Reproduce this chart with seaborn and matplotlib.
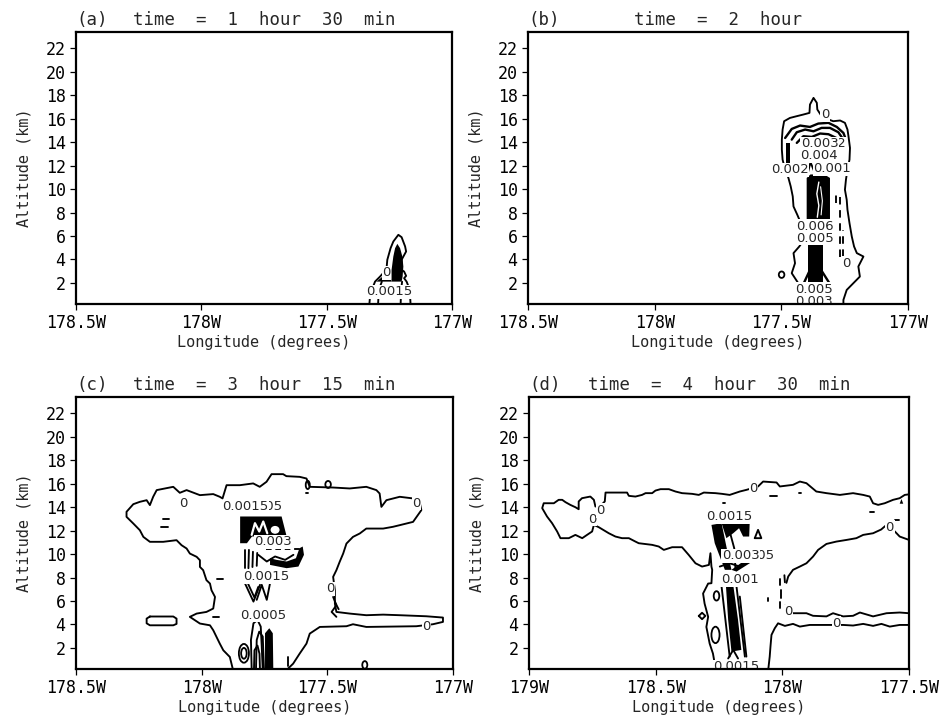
import matplotlib
matplotlib.use("Agg")
import matplotlib.pyplot as plt
from matplotlib.patches import Ellipse
import pandas as pd
import seaborn as sns

# ---------------------------------------------------------------- axes setup
PANEL_TAGS = ["(a)", "(b)", "(c)", "(d)"]
PANEL_TIMES = ["time  =  1  hour  30  min", "time  =  2  hour",
               "time  =  3  hour  15  min", "time  =  4  hour  30  min"]
XTICKS_ABC = [-178.5, -178.0, -177.5, -177.0]
XTICKLABELS_ABC = ["178.5W", "178W", "177.5W", "177W"]
XTICKS_D = [-179.0, -178.5, -178.0, -177.5]
XTICKLABELS_D = ["179W", "178.5W", "178W", "177.5W"]
YTICKS = [2, 4, 6, 8, 10, 12, 14, 16, 18, 20, 22]
ALT_RANGE = (0.2, 23.4)

# ------------------------------------------------ (a) 1 h 30 min contours
A_ZERO = [(-177.330, 0.1), (-177.327, 0.83), (-177.318, 1.5), (-177.307, 2.11),
          (-177.287, 2.54), (-177.272, 2.9), (-177.261, 3.25), (-177.258, 3.97),
          (-177.245, 4.96), (-177.234, 5.53), (-177.214, 6.10), (-177.201, 5.90),
          (-177.187, 5.11), (-177.183, 4.68), (-177.201, 3.97), (-177.201, 3.11),
          (-177.191, 2.97), (-177.183, 2.60), (-177.191, 2.40), (-177.181, 2.11),
          (-177.170, 1.5), (-177.167, 0.83), (-177.165, 0.1)]
A_INNER_1 = [(-177.295, 0.1), (-177.292, 1.4), (-177.280, 2.1)]
A_INNER_2 = [(-177.205, 0.1), (-177.203, 1.4), (-177.199, 2.1)]
A_CORE = [(-177.218, 5.33), (-177.207, 4.96), (-177.198, 4.25), (-177.194, 3.40),
          (-177.197, 2.54), (-177.201, 2.11), (-177.241, 2.11), (-177.241, 3.11),
          (-177.234, 4.25), (-177.227, 4.96)]
A_CORE_LOW = [(-177.301, 2.11), (-177.274, 2.60), (-177.247, 2.68), (-177.241, 2.11)]
A_LABELS = [("0", -177.262, 2.85), ("0.0015", -177.25, 1.26)]

# ------------------------------------------------ (b) 2 h contours
B_ZERO = [(-177.413, 0.1), (-177.413, 1.40), (-177.433, 1.97), (-177.459, 2.83),
          (-177.446, 3.68), (-177.452, 4.54), (-177.429, 5.11), (-177.416, 5.53),
          (-177.420, 6.25), (-177.423, 7.10), (-177.437, 7.81), (-177.452, 8.52),
          (-177.455, 9.38), (-177.463, 10.23), (-177.472, 10.95), (-177.485, 11.66),
          (-177.495, 12.51), (-177.498, 13.37), (-177.498, 14.22), (-177.495, 15.08),
          (-177.489, 15.79), (-177.466, 16.07), (-177.439, 16.22), (-177.413, 16.36),
          (-177.389, 16.50), (-177.387, 17.21), (-177.373, 17.78), (-177.360, 17.36),
          (-177.358, 16.79), (-177.341, 16.22), (-177.321, 15.99), (-177.295, 15.79),
          (-177.268, 15.85), (-177.249, 15.65), (-177.239, 15.08), (-177.235, 14.51),
          (-177.229, 13.51), (-177.231, 12.51), (-177.239, 11.66), (-177.245, 10.80),
          (-177.249, 9.95), (-177.242, 9.09), (-177.239, 8.24), (-177.231, 7.10),
          (-177.222, 5.96), (-177.213, 5.11), (-177.202, 4.54), (-177.176, 4.25),
          (-177.196, 3.40), (-177.190, 2.54), (-177.216, 1.97), (-177.242, 1.40),
          (-177.255, 0.55), (-177.255, 0.1)]
B_ARC_1 = [(-177.485, 14.36), (-177.459, 15.13), (-177.426, 15.42), (-177.387, 15.30),
           (-177.354, 15.59), (-177.314, 15.65), (-177.281, 15.30), (-177.255, 14.79),
           (-177.245, 14.22)]
B_ARC_2 = [(-177.459, 14.22), (-177.439, 14.85), (-177.406, 15.08), (-177.373, 14.93),
           (-177.341, 15.22), (-177.308, 15.22), (-177.275, 14.85), (-177.255, 14.22)]
B_ARC_3 = [(-177.439, 13.94), (-177.413, 14.51), (-177.380, 14.45), (-177.347, 14.74),
           (-177.314, 14.68), (-177.281, 14.34), (-177.262, 13.88)]
B_BAR_LEFT = [(-177.483, 12.1), (-177.466, 12.1), (-177.466, 13.9), (-177.483, 13.9)]
B_COL_UPPER = [(-177.400, 7.38), (-177.308, 7.38), (-177.308, 10.95), (-177.330, 11.25),
               (-177.385, 11.25), (-177.400, 10.95)]
B_STREAK_1 = [(-177.358, 7.6), (-177.352, 8.6), (-177.360, 9.6), (-177.352, 10.6)]
B_STREAK_2 = [(-177.343, 7.8), (-177.338, 9.0), (-177.345, 10.2)]
B_COL_LOWER = [(-177.393, 2.11), (-177.334, 2.11), (-177.334, 5.25), (-177.393, 5.25)]
B_FOOT_1 = [(-177.413, 1.9), (-177.385, 3.2), (-177.360, 1.9)]
B_FOOT_2 = [(-177.385, 1.9), (-177.340, 3.0), (-177.308, 1.9)]
B_W_LINES = [(-177.395, 11.4), (-177.385, 12.3), (-177.372, 11.6), (-177.360, 12.4)]
B_DASH_1 = [(-177.284, 8.8), (-177.284, 9.95)]
B_DASH_2 = [(-177.268, 4.25), (-177.268, 9.38)]
B_DASH_3 = [(-177.255, 3.1), (-177.255, 6.5)]
B_LOOPS = [(-177.499, 2.70, 0.022, 0.55)]
B_LABELS = [("0", -177.327, 16.36), ("0.002", -177.318, 13.85), ("0.003", -177.348, 13.85),
            ("0.004", -177.350, 12.85), ("0.001", -177.300, 11.75), ("0.002", -177.466, 11.66),
            ("0.005", -177.367, 5.80), ("0.006", -177.367, 6.85), ("0", -177.245, 3.68),
            ("0.003", -177.373, 0.42), ("0.005", -177.373, 1.45)]

# ------------------------------------------------ (c) 3 h 15 min contours
C_ZERO = [(-177.875, 0.1), (-177.888, 1.23), (-177.914, 1.80), (-177.928, 2.37),
          (-177.941, 2.94), (-177.954, 3.51), (-177.967, 3.93), (-178.007, 4.08),
          (-178.047, 4.65), (-178.020, 4.93), (-177.981, 5.07), (-177.954, 5.36),
          (-177.947, 6.35), (-177.961, 6.92), (-177.967, 7.49), (-177.981, 7.78),
          (-177.994, 8.63), (-178.007, 8.91), (-178.007, 9.48), (-178.020, 9.77),
          (-178.047, 10.05), (-178.060, 10.48), (-178.080, 10.76), (-178.100, 11.19),
          (-178.153, 11.05), (-178.206, 11.05), (-178.232, 11.47), (-178.246, 12.04),
          (-178.272, 12.61), (-178.299, 13.18), (-178.299, 13.61), (-178.272, 14.26),
          (-178.246, 14.46), (-178.219, 14.60), (-178.206, 14.18), (-178.193, 14.89),
          (-178.179, 15.46), (-178.113, 15.74), (-178.087, 15.23), (-178.060, 15.46),
          (-178.007, 15.03), (-177.954, 15.12), (-177.928, 14.89), (-177.917, 14.75),
          (-177.901, 15.88), (-177.848, 15.88), (-177.795, 16.03), (-177.769, 15.74),
          (-177.742, 16.17), (-177.722, 16.82), (-177.676, 16.82), (-177.663, 16.65),
          (-177.610, 16.59), (-177.583, 16.45), (-177.570, 15.74), (-177.477, 15.68),
          (-177.411, 15.60), (-177.345, 15.74), (-177.305, 15.46), (-177.292, 15.17),
          (-177.285, 14.03), (-177.265, 14.60), (-177.212, 14.89), (-177.159, 14.75),
          (-177.133, 14.46), (-177.126, 13.75), (-177.159, 12.75), (-177.212, 12.47),
          (-177.239, 12.33), (-177.278, 12.18), (-177.345, 12.18), (-177.371, 11.76),
          (-177.398, 11.47), (-177.424, 10.90), (-177.437, 10.05), (-177.451, 9.34),
          (-177.464, 8.63), (-177.477, 8.06), (-177.470, 6.92), (-177.470, 5.78),
          (-177.464, 5.07), (-177.411, 4.93), (-177.345, 4.79), (-177.278, 4.84),
          (-177.212, 4.79), (-177.106, 4.70), (-177.040, 4.59), (-177.040, 4.22),
          (-177.080, 4.02), (-177.146, 3.85), (-177.345, 3.79), (-177.398, 4.02),
          (-177.424, 3.85), (-177.530, 3.79), (-177.570, 3.22), (-177.583, 2.37),
          (-177.610, 1.52), (-177.636, 0.66), (-177.663, 0.1)]
C_BLOB = [(-178.206, 4.68), (-178.113, 4.68), (-178.100, 4.50), (-178.100, 4.05),
          (-178.113, 3.93), (-178.206, 3.93), (-178.219, 4.10), (-178.219, 4.50),
          (-178.206, 4.68)]
C_CORE_TOP = [(-177.847, 13.21), (-177.682, 13.21), (-177.655, 10.93), (-177.700, 10.93),
              (-177.720, 11.6), (-177.800, 11.5), (-177.820, 10.93), (-177.847, 10.93)]
C_CORE_TOP_W = [(-177.801, 11.64), (-177.788, 12.64), (-177.771, 11.93), (-177.755, 12.78),
                (-177.739, 11.78)]
C_CORE_MID = [(-177.728, 9.08), (-177.662, 8.80), (-177.615, 8.94), (-177.593, 9.94),
              (-177.598, 10.65), (-177.611, 10.50), (-177.625, 9.65), (-177.662, 9.37),
              (-177.702, 9.51), (-177.728, 9.65)]
C_MID_V1 = [(-177.828, 8.8), (-177.828, 10.36)]
C_MID_V2 = [(-177.814, 8.8), (-177.812, 10.36)]
C_MID_V3 = [(-177.798, 8.9), (-177.796, 10.2)]
C_MID_V4 = [(-177.781, 9.0), (-177.779, 10.1)]
C_MID_WAVE = [(-177.775, 9.94), (-177.741, 9.37), (-177.708, 9.80), (-177.668, 9.51),
              (-177.635, 9.94)]
C_DASHED = [(-177.745, 10.42), (-177.600, 10.42)]
C_V_1 = [(-177.828, 7.52), (-177.794, 5.95), (-177.768, 7.38)]
C_V_2 = [(-177.815, 7.45), (-177.790, 6.30), (-177.775, 7.20)]
C_N_1 = [(-177.781, 6.10), (-177.761, 7.38), (-177.741, 6.10), (-177.728, 7.52)]
C_STEM_1 = [(-177.801, 0.1), (-177.804, 2.68), (-177.794, 4.10), (-177.778, 4.39),
            (-177.765, 3.82), (-177.761, 2.11), (-177.757, 0.1)]
C_STEM_2 = [(-177.784, 0.1), (-177.781, 2.68), (-177.771, 3.39), (-177.757, 2.97),
            (-177.752, 0.1)]
C_STEM_3 = [(-177.792, 0.1), (-177.790, 1.8), (-177.778, 2.2), (-177.770, 1.5),
            (-177.768, 0.1)]
C_STEM_FILL = [(-177.748, 0.1), (-177.748, 3.25), (-177.731, 3.68), (-177.717, 3.25),
               (-177.715, 0.1)]
C_BITS = [[(-178.155, 13.0), (-178.130, 13.0)], [(-178.160, 12.3), (-178.135, 12.3)],
          [(-177.940, 7.9), (-177.915, 7.9)], [(-177.955, 4.65), (-177.930, 4.65)],
          [(-177.656, 0.5), (-177.656, 1.2)], [(-177.585, 15.2), (-177.575, 15.2)],
          [(-177.477, 6.35), (-177.464, 5.64), (-177.483, 5.07), (-177.464, 4.65)],
          [(-177.470, 5.90), (-177.455, 5.30)]]
C_LOOPS = [(-177.497, 15.94, 0.022, 0.6), (-177.578, 15.90, 0.016, 0.7),
           (-177.351, 0.55, 0.020, 0.65), (-177.832, 1.54, 0.040, 1.6),
           (-177.832, 1.54, 0.022, 0.92)]
C_LABELS = [("0", -178.073, 14.32), ("0.0005", -177.770, 14.03), ("0.0015", -177.825, 14.03),
            ("0.003", -177.716, 11.05), ("0.0015", -177.742, 8.06),
            ("0.0005", -177.755, 4.79), ("0", -177.146, 14.32), ("0", -177.490, 7.06),
            ("0", -177.106, 3.79)]

# ------------------------------------------------ (d) 4 h 30 min contours
D_ANVIL = [(-177.500, 15.10), (-177.517, 15.05), (-177.537, 14.77), (-177.563, 14.63),
           (-177.596, 14.34), (-177.622, 14.20), (-177.642, 14.34), (-177.655, 14.91),
           (-177.681, 15.05), (-177.721, 15.20), (-177.773, 15.05), (-177.826, 15.20),
           (-177.866, 15.34), (-177.905, 16.05), (-177.931, 16.19), (-177.958, 15.91),
           (-178.010, 15.77), (-178.023, 16.11), (-178.076, 16.19), (-178.096, 15.77),
           (-178.142, 15.48), (-178.168, 15.34), (-178.208, 15.05), (-178.238, 15.14),
           (-178.264, 15.20), (-178.310, 15.25), (-178.330, 15.05), (-178.356, 15.14),
           (-178.396, 15.20), (-178.422, 15.34), (-178.448, 15.54), (-178.481, 15.54),
           (-178.501, 15.42), (-178.514, 15.20), (-178.540, 15.20), (-178.554, 15.05),
           (-178.580, 14.91), (-178.606, 14.97), (-178.613, 15.25), (-178.698, 15.25),
           (-178.701, 14.49), (-178.718, 14.12), (-178.738, 14.06), (-178.744, 14.63),
           (-178.758, 14.91), (-178.791, 14.77), (-178.804, 14.49), (-178.804, 13.83),
           (-178.817, 14.00), (-178.837, 14.20), (-178.856, 14.43), (-178.869, 14.63),
           (-178.883, 14.63), (-178.902, 14.34), (-178.942, 14.34), (-178.948, 13.92),
           (-178.929, 13.21), (-178.909, 12.64), (-178.889, 11.93), (-178.876, 11.36),
           (-178.843, 11.36), (-178.817, 11.64), (-178.790, 11.36), (-178.771, 11.64),
           (-178.751, 11.93), (-178.744, 12.49), (-178.725, 12.30), (-178.685, 11.78),
           (-178.659, 11.50), (-178.633, 11.36), (-178.606, 11.36), (-178.580, 11.07),
           (-178.567, 10.93), (-178.514, 10.79), (-178.488, 10.65), (-178.468, 10.36),
           (-178.435, 10.59), (-178.396, 10.59), (-178.370, 9.94), (-178.343, 9.22),
           (-178.317, 8.94), (-178.290, 9.08), (-178.284, 10.08), (-178.280, 8.94),
           (-178.277, 8.66), (-178.280, 7.52), (-178.293, 7.49), (-178.313, 6.64),
           (-178.307, 5.78), (-178.293, 4.65), (-178.300, 3.79), (-178.287, 2.37),
           (-178.274, 1.52), (-178.267, 0.66), (-178.263, 0.1)]
D_BASE_UPPER = [(-177.500, 11.21), (-177.537, 11.50), (-177.556, 11.93), (-177.589, 12.49),
                (-177.610, 12.10), (-177.642, 11.78), (-177.681, 11.64), (-177.708, 11.36),
                (-177.747, 11.21), (-177.787, 11.07), (-177.826, 10.87), (-177.859, 10.36),
                (-177.879, 9.79), (-177.905, 9.22), (-177.931, 8.94), (-177.958, 8.66),
                (-177.977, 8.09), (-177.984, 7.55)]
D_LAYER_TOP = [(-177.990, 5.60), (-177.977, 5.20), (-177.958, 4.96), (-177.905, 4.96),
               (-177.879, 4.74), (-177.826, 4.69), (-177.800, 4.96), (-177.760, 4.69),
               (-177.721, 4.74), (-177.694, 5.02), (-177.642, 4.69), (-177.589, 4.96),
               (-177.537, 5.02), (-177.500, 4.96)]
D_LAYER_BOTTOM = [(-177.500, 3.96), (-177.537, 3.96), (-177.576, 3.82), (-177.609, 4.05),
                  (-177.642, 3.88), (-177.681, 4.05), (-177.721, 3.91), (-177.760, 3.96),
                  (-177.826, 3.96), (-177.892, 3.96), (-177.931, 3.82), (-177.958, 4.05),
                  (-177.990, 3.88), (-178.017, 4.10), (-178.030, 3.68), (-178.043, 3.11),
                  (-178.047, 2.11), (-178.050, 1.26), (-178.056, 0.1)]
D_V_LEFT = [(-178.280, 12.49), (-178.240, 12.64), (-178.221, 10.65), (-178.201, 8.66),
            (-178.227, 8.66), (-178.267, 10.93)]
D_V_TOP = [(-178.240, 12.64), (-178.129, 12.69), (-178.131, 11.50), (-178.155, 11.50),
           (-178.171, 12.21), (-178.194, 11.78), (-178.221, 11.36)]
D_V_LOW = [(-178.201, 8.66), (-178.131, 9.74), (-178.118, 9.37), (-178.181, 8.51)]
D_V_LINE = [(-178.215, 12.5), (-178.190, 10.5), (-178.185, 8.7)]
D_TRIANGLE = [(-178.109, 11.36), (-178.096, 12.07), (-178.083, 11.36), (-178.109, 11.36)]
D_WAVE = [(-178.247, 8.94), (-178.208, 9.22), (-178.168, 8.94), (-178.142, 9.51)]
D_COLUMN = [(-178.223, 7.38), (-178.194, 7.38), (-178.175, 4.39), (-178.162, 1.83),
            (-178.201, 1.69), (-178.214, 4.39)]
D_COL_1 = [(-178.240, 7.23), (-178.208, 1.26)]
D_COL_2 = [(-178.181, 7.23), (-178.148, 1.26)]
D_COL_3 = [(-178.168, 6.38), (-178.142, 1.26)]
D_FOOT = [(-178.214, 1.1), (-178.194, 1.83), (-178.175, 1.1)]
D_DIAMOND = [(-178.330, 4.73), (-178.317, 5.0), (-178.304, 4.73), (-178.317, 4.45),
             (-178.330, 4.73)]
D_SPECK = [(-177.537, 14.3), (-177.523, 14.3), (-177.530, 14.7)]
D_BITS = [[(-178.010, 7.9), (-178.010, 7.4)], [(-177.992, 8.2), (-177.990, 7.6)],
          [(-178.004, 6.9), (-178.004, 6.3)], [(-178.056, 6.3), (-178.056, 6.0)],
          [(-178.010, 5.9), (-178.010, 5.4)], [(-177.655, 13.63), (-177.640, 13.63)],
          [(-177.555, 12.92), (-177.540, 12.92)], [(-177.936, 15.2), (-177.925, 15.2)],
          [(-178.050, 14.95), (-178.020, 14.95)], [(-178.234, 14.34), (-178.226, 14.34)]]
D_LOOPS = [(-178.264, 3.11, 0.032, 1.4), (-178.260, 6.44, 0.022, 0.8)]
D_LABELS = [("0", -178.115, 15.62), ("0", -177.576, 12.30), ("0", -178.751, 12.98),
            ("0", -178.718, 13.72), ("0.0015", -178.208, 13.21), ("0.0005", -178.125, 9.85),
            ("0.003", -178.165, 9.85), ("0.001", -178.168, 7.80),
            ("0.0015", -178.181, 0.41), ("0", -177.977, 5.10), ("0", -177.787, 4.10)]


def trace(ax, pts, color="black", lw=1.35, ls="-"):
    frame = pd.DataFrame(pts, columns=["lon", "alt"])
    sns.lineplot(data=frame, x="lon", y="alt", sort=False, estimator=None,
                 color=color, linewidth=lw, linestyle=ls, ax=ax, zorder=3)


def solid(ax, pts, color="black"):
    ax.fill([p[0] for p in pts], [p[1] for p in pts], color=color, lw=0, zorder=3)


def loops(ax, items):
    for lon, alt, w, h in items:
        ax.add_patch(Ellipse((lon, alt), w, h, fill=False, ec="black", lw=1.3, zorder=3))


def tags(ax, items):
    for text, lon, alt in items:
        ax.text(lon, alt, text, ha="center", va="center", fontsize=9.5,
                family="DejaVu Sans", zorder=6, clip_on=True,
                bbox=dict(boxstyle="square,pad=0.04", fc="white", ec="none"))


sns.set_theme(style="ticks")
plt.rcParams["font.family"] = ["DejaVu Sans Mono", "DejaVu Sans"]

fig = plt.figure(figsize=(9.43, 7.17), dpi=100)
boxes = [[0.0806, 0.5760, 0.3987, 0.3794], [0.5599, 0.5760, 0.4030, 0.3794],
         [0.0806, 0.0669, 0.3998, 0.3794], [0.5610, 0.0669, 0.4030, 0.3794]]
axes = [fig.add_axes(b) for b in boxes]
ax_a, ax_b, ax_c, ax_d = axes

# (a)
trace(ax_a, A_ZERO)
trace(ax_a, A_INNER_1)
trace(ax_a, A_INNER_2)
solid(ax_a, A_CORE)
solid(ax_a, A_CORE_LOW)
tags(ax_a, A_LABELS)

# (b)
trace(ax_b, B_ZERO)
for arc in (B_ARC_1, B_ARC_2, B_ARC_3):
    trace(ax_b, arc, lw=1.7)
solid(ax_b, B_BAR_LEFT)
solid(ax_b, B_COL_UPPER)
trace(ax_b, B_STREAK_1, color="white", lw=1.0)
trace(ax_b, B_STREAK_2, color="white", lw=0.8)
solid(ax_b, B_COL_LOWER)
trace(ax_b, B_FOOT_1, lw=1.7)
trace(ax_b, B_FOOT_2, lw=1.7)
trace(ax_b, B_W_LINES)
for dash in (B_DASH_1, B_DASH_2, B_DASH_3):
    trace(ax_b, dash, ls=(0, (4, 3)))
loops(ax_b, B_LOOPS)
tags(ax_b, B_LABELS)

# (c)
trace(ax_c, C_ZERO)
trace(ax_c, C_BLOB)
solid(ax_c, C_CORE_TOP)
trace(ax_c, C_CORE_TOP_W, color="white", lw=1.6)
ax_c.add_patch(Ellipse((-177.708, 12.07), 0.03, 0.55, color="white", zorder=3))
solid(ax_c, C_CORE_MID)
for seg in (C_MID_V1, C_MID_V2, C_MID_V3, C_MID_V4, C_MID_WAVE, C_V_1, C_V_2, C_N_1,
            C_STEM_1, C_STEM_2, C_STEM_3):
    trace(ax_c, seg)
trace(ax_c, C_DASHED, ls=(0, (3, 2)))
solid(ax_c, C_STEM_FILL)
for seg in C_BITS:
    trace(ax_c, seg)
loops(ax_c, C_LOOPS)
tags(ax_c, C_LABELS)

# (d)
for seg in (D_ANVIL, D_BASE_UPPER, D_LAYER_TOP, D_LAYER_BOTTOM, D_V_LINE, D_TRIANGLE,
            D_WAVE, D_COL_1, D_COL_2, D_COL_3, D_FOOT, D_DIAMOND):
    trace(ax_d, seg)
for poly in (D_V_LEFT, D_V_TOP, D_V_LOW, D_COLUMN, D_SPECK):
    solid(ax_d, poly)
for seg in D_BITS:
    trace(ax_d, seg)
loops(ax_d, D_LOOPS)
tags(ax_d, D_LABELS)

# frames, ticks and titles
for i, ax in enumerate(axes):
    if i < 3:
        ax.set_xlim(XTICKS_ABC[0], XTICKS_ABC[-1])
        ax.set_xticks(XTICKS_ABC)
        ax.set_xticklabels(XTICKLABELS_ABC)
    else:
        ax.set_xlim(XTICKS_D[0], XTICKS_D[-1])
        ax.set_xticks(XTICKS_D)
        ax.set_xticklabels(XTICKLABELS_D)
    ax.set_ylim(*ALT_RANGE)
    ax.set_yticks(YTICKS)
    ax.tick_params(direction="out", length=4.5, width=0.9, pad=3,
                   labelsize=12, colors="black")
    for side in ax.spines.values():
        side.set_linewidth(1.6)
        side.set_color("black")
        side.set_zorder(8)
    ax.set_xlabel("Longitude (degrees)", fontsize=11, labelpad=2)
    ax.set_ylabel("Altitude (km)", fontsize=11, labelpad=10)
    ax.set_title(PANEL_TAGS[i], loc="left", fontsize=12.5, pad=5)
    ax.set_title(PANEL_TIMES[i], loc="center", fontsize=12.5, pad=5)
    ax.set_facecolor("white")

fig.savefig("out.png", dpi=100, facecolor="white")
